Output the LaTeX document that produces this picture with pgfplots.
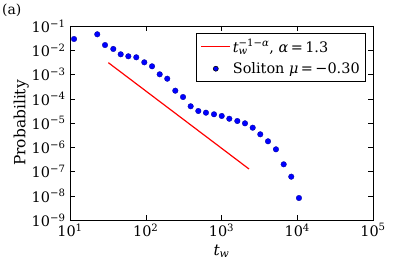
\documentclass[border=0pt]{standalone}
\usepackage{fontspec}
\setmainfont{DejaVu Serif}
\usepackage{pgfplots}
\pgfplotsset{compat=1.18}
\newcommand{\tw}{\textit{t}\rlap{\textsubscript{\textit{w}}}}
\begin{document}
\begin{tikzpicture}[x=1bp,y=1bp]
\begin{axis}[name=ax,
  at={(0,0)}, anchor=south west,
  width=303bp, height=194bp, scale only axis,
  xmode=log, ymode=log, log basis x=10, log basis y=10,
  xmin=10, xmax=1e5, ymin=1e-9, ymax=1e-1,
  xtick={10,100,1000,10000,100000},
  ytick={1e-9,1e-8,1e-7,1e-6,1e-5,1e-4,1e-3,1e-2,1e-1},
  tick align=inside,
  major tick length=5bp, minor tick length=2.5bp,
  every tick/.style={black, line width=0.5pt},
  axis line style={line width=0.8pt},
  xticklabel={\pgfmathtruncatemacro\e{round(\tick)}10\textsuperscript{\ifnum\e<0 \char"2212\relax\number-\e\else\e\fi}},
  yticklabel={\pgfmathtruncatemacro\e{round(\tick)}10\textsuperscript{\ifnum\e<0 \char"2212\relax\number-\e\else\e\fi}},
  tick label style={font=\fontsize{14.5}{16}\selectfont},
  yticklabel style={xshift=-1bp},
  xlabel={\textit{t}\textsubscript{\textit{w}}}, ylabel={Probability},
  label style={font=\fontsize{15.5}{17}\selectfont},
  xlabel style={yshift=-2bp},
  ylabel style={yshift=-4bp},
  legend style={at={(1,1)}, anchor=north east, xshift=-7bp, yshift=-7bp,
    draw=black, line width=0.6pt, font=\fontsize{14.5}{17}\selectfont,
    inner xsep=4bp, inner ysep=4bp, row sep=5bp},
  legend cell align=left,
]
\addplot[red, line width=1.2pt, forget plot] coordinates {(32.1,3.07e-3) (2307,1.27e-7)};
\addplot[only marks, mark=*, mark size=2.8bp, mark options={fill=blue, draw=blue!60!black, line width=0.3pt}, forget plot] coordinates {
(11.3,2.91e-2) (22.9,4.55e-2) (29.0,1.64e-2) (37.3,1.13e-2) (46.7,6.81e-3)
(58.9,5.64e-3) (75.0,5.12e-3) (95.7,3.18e-3) (121.1,2.18e-3) (152.8,1.02e-3)
(192.3,6.71e-4) (245.5,2.15e-4) (310.5,1.18e-4) (391.7,4.89e-5) (494.3,3.13e-5)
(623.7,2.66e-5) (796.2,2.29e-5) (1007,1.95e-5) (1268,1.50e-5) (1618,1.21e-5)
(2042,9.70e-6) (2582,6.40e-6) (3251,3.42e-6) (4111,1.76e-6) (5236,8.22e-7)
(6622,1.98e-7) (8337,6.11e-8) (10540,8.07e-9)};
\addlegendimage{legend image code/.code={\draw[draw=red, line width=1.2pt] (0bp,0bp) -- (29bp,0bp);}}
\addlegendentry{\tw\textsuperscript{−1−\textit{α}}, \textit{α}\,=\,1.3}
\addlegendimage{legend image code/.code={\fill[fill=blue] (14.5bp,0bp) circle (2.5bp);}}
\addlegendentry{Soliton \textit{μ}\,=\,−0.30}
\end{axis}
\node[anchor=north west, inner sep=0pt, font=\fontsize{14}{16}\selectfont] at ([shift={(-68bp,22bp)}]ax.north west) {(a)};
\useasboundingbox ([shift={(-70bp,-40bp)}]ax.south west) rectangle ([shift={(42bp,26bp)}]ax.north east);
\end{tikzpicture}
\end{document}
